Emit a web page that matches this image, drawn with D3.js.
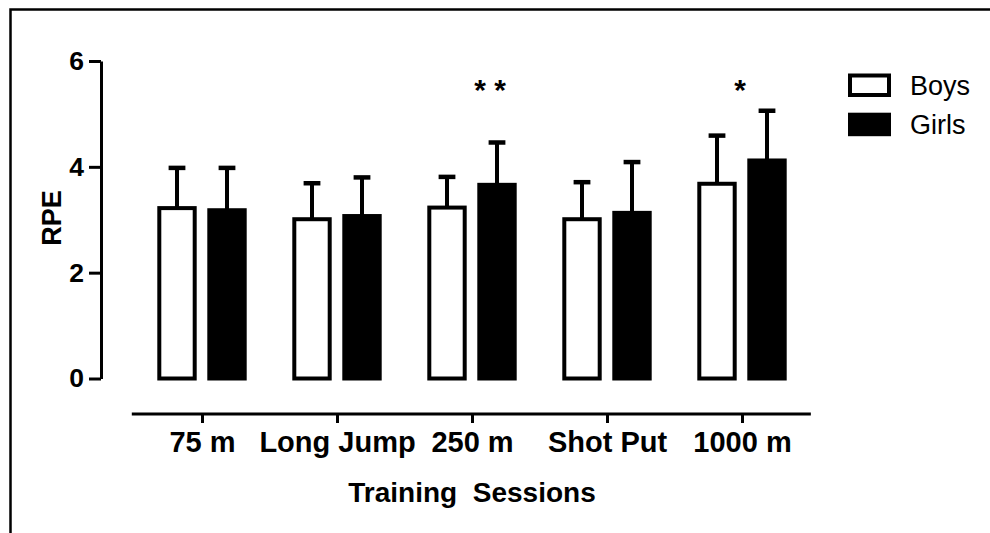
<!DOCTYPE html>
<html>
<head>
<meta charset="utf-8">
<script src="https://cdn.jsdelivr.net/npm/d3@7"></script>
<style>
  html, body { margin: 0; padding: 0; background: #fff; }
  svg { display: block; font-family: "Liberation Sans", Arial, sans-serif; }
</style>
</head>
<body>
<svg id="chart" width="990" height="533"></svg>
<script>
// ---- data ----
const categories = ["75 m", "Long Jump", "250 m", "Shot Put", "1000 m"];
const seriesNames = ["Boys", "Girls"];
const boysMean = [3.22, 3.01, 3.23, 3.01, 3.68];
const boysSD   = [0.76, 0.68, 0.58, 0.70, 0.91];
const girlsMean = [3.18, 3.07, 3.66, 3.13, 4.12];
const girlsSD   = [0.80, 0.73, 0.80, 0.96, 0.94];
const yTicks = [0, 2, 4, 6];
const annotations = [
  { category: "250 m", text: "* *", series: "Girls" },
  { category: "1000 m", text: "*", series: null }
];
const xTitle = "Training  Sessions";
const yTitle = "RPE";

// ---- layout ----
const svg = d3.select("#chart");
const black = "#000";

// frame
svg.append("rect")
  .attr("x", 10.5).attr("y", 9.5)
  .attr("width", 1000).attr("height", 600)
  .attr("fill", "none").attr("stroke", black).attr("stroke-width", 2.5);

const x = d3.scalePoint().domain(categories).range([202, 742]).padding(0);
const x1 = d3.scaleBand().domain(seriesNames).range([-44.7, 44.7]).paddingInner(0.212);
const y = d3.scaleLinear().domain([0, 6]).range([378.5, 61]);

const data = [];
categories.forEach((c, i) => {
  data.push({ cat: c, series: "Boys", mean: boysMean[i], sd: boysSD[i] });
  data.push({ cat: c, series: "Girls", mean: girlsMean[i], sd: girlsSD[i] });
});
const fillFor = s => s === "Boys" ? "#fff" : black;

// bars
const sw = 4;
svg.append("g").selectAll("rect").data(data).join("rect")
  .attr("x", d => x(d.cat) + x1(d.series) + sw / 2)
  .attr("width", x1.bandwidth() - sw)
  .attr("y", d => y(d.mean))
  .attr("height", d => y(0) - y(d.mean))
  .attr("fill", d => fillFor(d.series))
  .attr("stroke", black).attr("stroke-width", sw);

// error bars
const eg = svg.append("g").attr("stroke", black);
const cx = d => x(d.cat) + x1(d.series) + x1.bandwidth() / 2;
eg.selectAll("line.w").data(data).join("line").attr("class", "w")
  .attr("x1", cx).attr("x2", cx)
  .attr("y1", d => y(d.mean)).attr("y2", d => y(d.mean + d.sd))
  .attr("stroke-width", 4);
eg.selectAll("line.c").data(data).join("line").attr("class", "c")
  .attr("x1", d => cx(d) - 8.4).attr("x2", d => cx(d) + 8.4)
  .attr("y1", d => y(d.mean + d.sd)).attr("y2", d => y(d.mean + d.sd))
  .attr("stroke-width", 4.5);

// y axis
const yAxis = d3.axisLeft(y).tickValues(yTicks).tickFormat(d3.format("d"))
  .tickSize(12).tickSizeOuter(0).tickPadding(5);
const gy = svg.append("g").attr("transform", "translate(101,0)").call(yAxis);
gy.select(".domain").attr("stroke", black).attr("stroke-width", 3);
gy.selectAll(".tick line").attr("stroke", black).attr("stroke-width", 3);
gy.selectAll(".tick text").attr("fill", black)
  .style("font-size", "26.5px").style("font-weight", "bold")
  .style("font-family", "'Liberation Sans', Arial, sans-serif");

// x axis
const step = x.step();
const xAxis = d3.axisBottom(x).tickSize(9).tickSizeOuter(0).tickPadding(8);
const gx = svg.append("g").attr("transform", "translate(0,414)").call(xAxis);
gx.select(".domain").remove();
gx.append("line")
  .attr("x1", x(categories[0]) - step * 0.52)
  .attr("x2", x(categories[categories.length - 1]) + step * 0.51)
  .attr("stroke", black).attr("stroke-width", 3);
gx.selectAll(".tick line").attr("stroke", black).attr("stroke-width", 3);
gx.selectAll(".tick text").attr("fill", black)
  .style("font-size", "29px").style("font-weight", "bold")
  .style("font-family", "'Liberation Sans', Arial, sans-serif");

// axis titles
svg.append("text")
  .attr("x", (x(categories[0]) + x(categories[categories.length - 1])) / 2)
  .attr("y", 502)
  .attr("text-anchor", "middle")
  .style("white-space", "pre")
  .style("font-size", "28px").style("font-weight", "bold")
  .text(xTitle);
svg.append("text")
  .attr("transform", "translate(61,218) rotate(-90)")
  .attr("text-anchor", "middle")
  .style("font-size", "27px").style("font-weight", "bold")
  .text(yTitle);

// annotations
annotations.forEach(a => {
  const ax = a.series ? x(a.category) + x1(a.series) + x1.bandwidth() / 2 - 7 : x(a.category) - 2;
  svg.append("text")
    .attr("x", ax).attr("y", 100)
    .attr("text-anchor", "middle")
    .style("white-space", "pre")
    .style("font-size", "30px").style("font-weight", "bold")
    .text(a.text);
});

// legend
const lg = svg.append("g");
seriesNames.forEach((s, i) => {
  const gy0 = 75.5 + i * 39.2;
  lg.append("rect")
    .attr("x", 850).attr("y", gy0).attr("width", 39).attr("height", 19.5)
    .attr("fill", fillFor(s)).attr("stroke", black).attr("stroke-width", sw);
  lg.append("text")
    .attr("x", 910).attr("y", gy0 + 19)
    .style("font-size", "27px")
    .text(s);
});
</script>
</body>
</html>
